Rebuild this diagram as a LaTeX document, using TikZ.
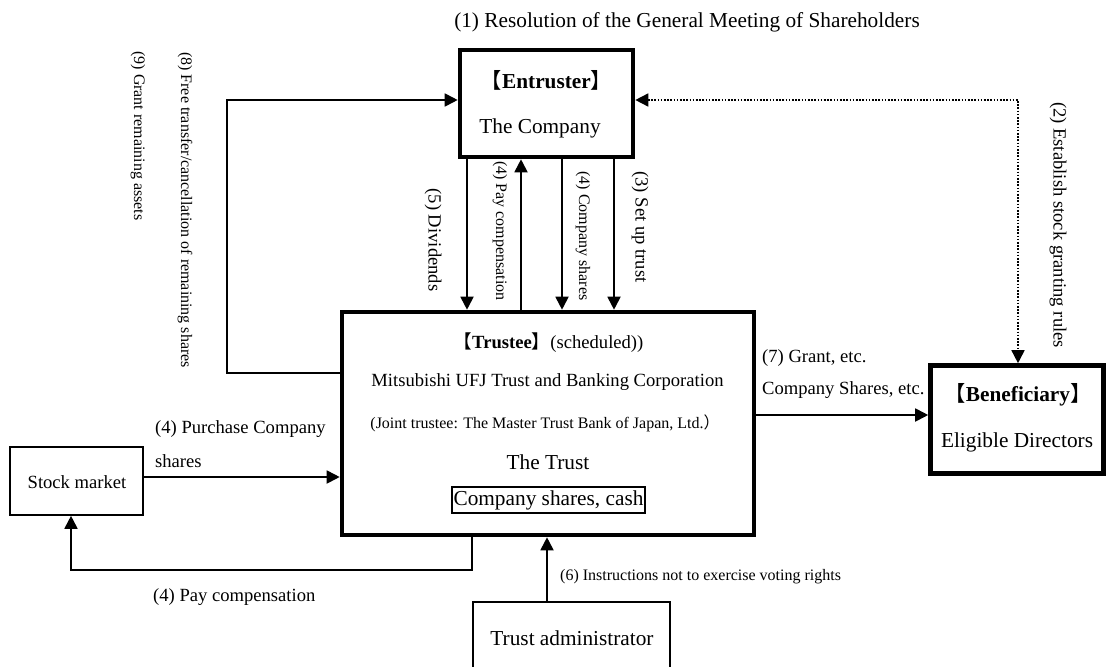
\documentclass[tikz,border=0pt]{standalone}
\usepackage{fontspec}
\setmainfont{Liberation Serif}
\newfontfamily\cjkf{Noto Sans CJK JP}
\usetikzlibrary{arrows.meta}
\newcommand\lbk{{\cjkf 【}}
\newcommand\rbk{{\cjkf 】}}
\newcommand\rpar{{\cjkf ）}}
\begin{document}
\begin{tikzpicture}[x=1pt,y=-1pt,
  ftL/.style={font=\fontsize{21.3}{25}\selectfont},
  ftM/.style={font=\fontsize{18.6}{22}\selectfont},
  ftS/.style={font=\fontsize{16}{19}\selectfont},
  lbl/.style={inner sep=0pt},
  thickbox/.style={draw,line width=4.6pt,inner sep=0pt},
  thinbox/.style={draw,line width=1.6pt,inner sep=0pt},
  conn/.style={line width=1.8pt},
  tip/.tip={Triangle[length=13pt,width=13pt]},
  arr/.style={conn,-tip},
  dotl/.style={line width=1.6pt,dash pattern=on 1.6pt off 1.6pt,tip-tip}]
\path[use as bounding box] (0,0) rectangle (1107,666);

% boxes
\node[thickbox,minimum width=173pt,minimum height=107pt] (ent) at (546.5,103.5) {};
\node[thickbox,minimum width=412pt,minimum height=223pt] (tru) at (548,423.5) {};
\node[thickbox,minimum width=173pt,minimum height=108pt] (ben) at (1017,419.5) {};
\node[thinbox,minimum width=133pt,minimum height=68pt] (stk) at (76.5,481) {};
\node[thinbox,minimum width=197pt,minimum height=84pt] (adm) at (571.5,644) {};

% texts in boxes
\node[lbl,ftL] (entT) at (546.5,80) {\lbk\textbf{Entruster}\rbk};
\node[lbl,ftL] (entC) at (540,128) {The Company};
\node[lbl,ftM] (truT) at (548.5,343) {\lbk\textbf{Trustee}\rbk(scheduled))};
\node[lbl,ftM] (truM) at (547.5,382) {Mitsubishi UFJ Trust and Banking Corporation};
\node[lbl,ftS] (truJ) at (545,423) {(Joint trustee: The Master Trust Bank of Japan, Ltd.\rpar};
\node[lbl,ftL] (truR) at (548,462) {The Trust};
\node[thinbox,ftL,inner xsep=1.5pt,minimum height=26pt] (cash) at (548.5,500) {Company shares, cash};
\node[lbl,ftL] (benT) at (1018,395) {\lbk\textbf{Beneficiary}\rbk};
\node[lbl,ftL] (benD) at (1017,442) {Eligible Directors};
\node[lbl,ftM] (stkT) at (77,482) {Stock market};
\node[lbl,ftL] (admT) at (572,638) {Trust administrator};

% coordinates
\coordinate (x5) at (467,0);
\coordinate (x4p) at (521,0);
\coordinate (x4c) at (562,0);
\coordinate (x3) at (614,0);
\coordinate (x6) at (547,0);
\coordinate (x4b) at (472,0);
\coordinate (x2) at (1018,0);
\coordinate (y100) at (0,100);
\coordinate (y373) at (0,373);
\coordinate (y415) at (0,415);
\coordinate (y477) at (0,477);
\coordinate (cL) at (227,373);
\coordinate (cB) at (71,570);

% connectors
\draw[arr] (ent.south -| x5) -- (tru.north -| x5);
\draw[arr] (tru.north -| x4p) -- (ent.south -| x4p);
\draw[arr] (ent.south -| x4c) -- (tru.north -| x4c);
\draw[arr] (ent.south -| x3) -- (tru.north -| x3);
\draw[arr] (tru.west |- y373) -- (cL) |- (ent.west |- y100);
\draw[dotl] (ent.east |- y100) -| (ben.north -| x2);
\draw[arr] (tru.east |- y415) -- (ben.west |- y415);
\draw[arr] (stk.east |- y477) -- (tru.west |- y477);
\draw[arr] (tru.south -| x4b) |- (cB) -- (stk.south -| cB);
\draw[arr] (adm.north -| x6) -- (tru.south -| x6);

% labels
\node[lbl,ftL] (l1) at (687,22) {(1) Resolution of the General Meeting of Shareholders};
\node[lbl,ftS,rotate=-90] (l9) at (138,136) {(9) Grant remaining assets};
\node[lbl,ftS,rotate=-90] (l8) at (185,210) {(8) Free transfer/cancellation of remaining shares};
\node[lbl,ftM,rotate=-90] (l5) at (433,240) {(5) Dividends};
\node[lbl,ftS,rotate=-90] (l4p) at (500,231) {(4) Pay compensation};
\node[lbl,ftS,rotate=-90] (l4c) at (583,236) {(4) Company shares};
\node[lbl,ftM,rotate=-90] (l3) at (640,227) {(3) Set up trust};
\node[lbl,ftM,rotate=-90] (l2) at (1058,225) {(2) Establish stock granting rules};
\node[lbl,ftM,anchor=west] (l7a) at (762,358) {(7) Grant, etc.};
\node[lbl,ftM,anchor=west] (l7b) at (762,390) {Company Shares, etc.};
\node[lbl,ftM,anchor=west] (l4a) at (155,429) {(4) Purchase Company};
\node[lbl,ftM,anchor=west] (l4s) at (155,461) {shares};
\node[lbl,ftM,anchor=west] (l4b) at (153,597) {(4) Pay compensation};
\node[lbl,ftS,anchor=west] (l6) at (560,577) {(6) Instructions not to exercise voting rights};
\end{tikzpicture}
\end{document}
